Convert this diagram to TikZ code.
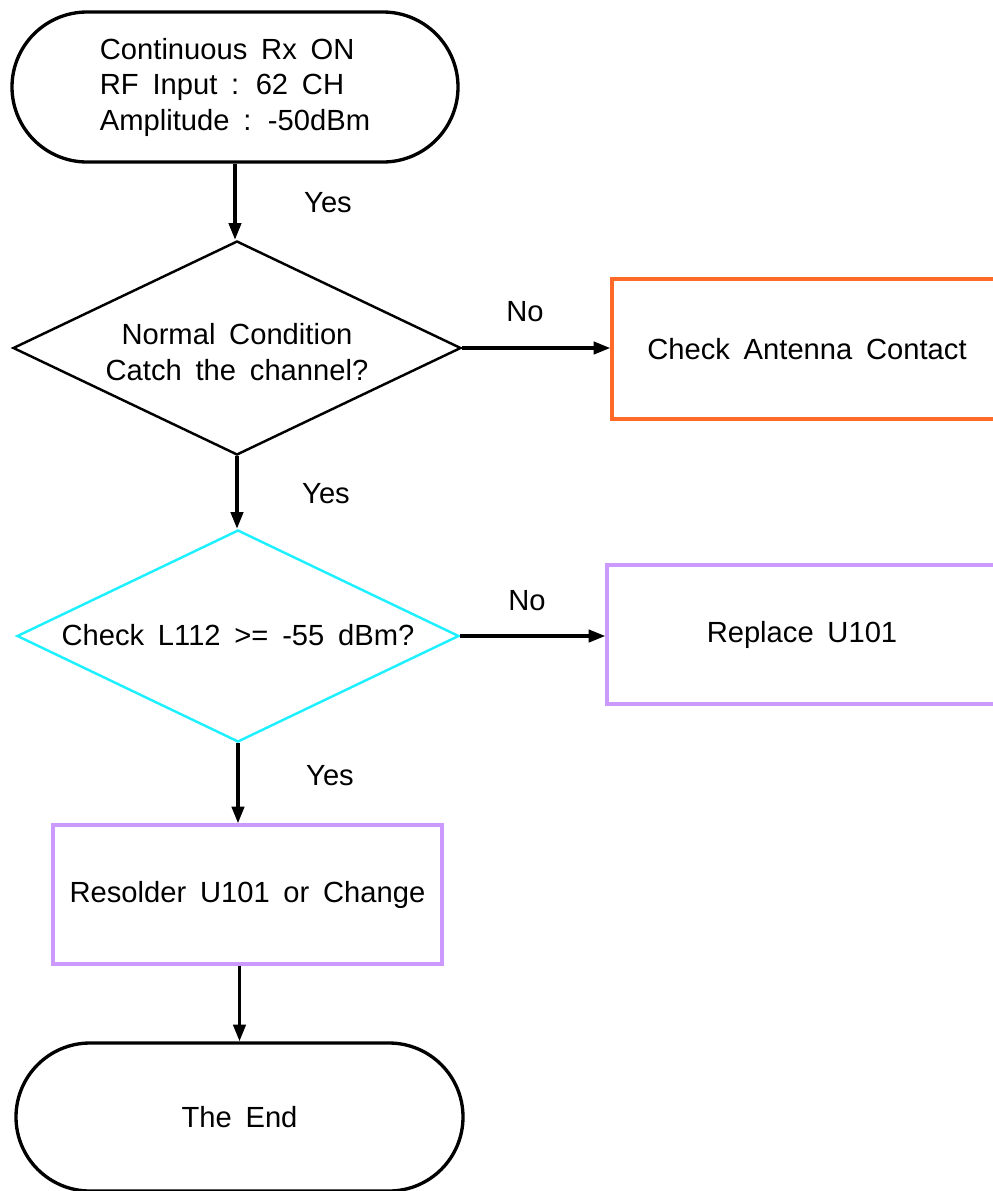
\documentclass[tikz,border=0pt]{standalone}
\usepackage{fontspec}
\setmainfont{Liberation Sans}[WordSpace=1.7]
\usetikzlibrary{shapes.misc,shapes.geometric,arrows.meta}
\definecolor{orangeline}{HTML}{FF6A28}
\definecolor{purpleline}{HTML}{CC99FF}
\definecolor{cyanline}{HTML}{1EF0FF}
\newlength\pxu
\setlength\pxu{0.02cm}
\tikzset{
  every node/.style={font=\fontsize{16.6}{20.2}\selectfont, inner sep=0pt},
  terminal/.style={rounded rectangle, draw=black, line width=1.9pt, align=left},
  decision/.style={diamond, draw, line width=1.4pt, inner sep=0pt},
  procbox/.style={rectangle, draw, line width=1.9pt, align=center},
  arr/.style={line width=1.9pt, -{Triangle[length=9.5pt,width=7pt]}},
  lbl/.style={anchor=center}
}
\begin{document}
\begin{tikzpicture}[x=0.02cm, y=-0.02cm]
\useasboundingbox (0,0) rectangle (992,1191);

\node[terminal, minimum width=446\pxu, minimum height=150\pxu] (start) at (235,87)
  {Continuous Rx ON\\RF Input : 62 CH\\Amplitude : -50dBm};

\node[decision, draw=black, minimum width=448\pxu, minimum height=214\pxu] (d1) at (237,348) {};
\node[align=center] (d1t) at (237,352) {Normal Condition\\Catch the channel?};

\node[procbox, draw=orangeline, minimum width=390\pxu, minimum height=140\pxu] (b1) at (807,349) {Check Antenna Contact};

\node[decision, draw=cyanline, minimum width=442\pxu, minimum height=212\pxu] (d2) at (238,636) {};
\node (d2t) at (238,635) {Check L112 >= -55 dBm?};

\node[procbox, draw=purpleline, minimum width=390\pxu, minimum height=139\pxu] (b2) at (802,634.5) {Replace U101};

\node[procbox, draw=purpleline, minimum width=389\pxu, minimum height=139\pxu] (b3) at (247.5,894.5) {Resolder U101 or Change};

\node[terminal, minimum width=447\pxu, minimum height=148\pxu, align=center] (end) at (239.5,1117) {The End};

% labels
\node[lbl] (y1) at (328,203) {Yes};
\node[lbl] (n1) at (525,312) {No};
\node[lbl] (y2) at (326,494) {Yes};
\node[lbl] (n2) at (527,601) {No};
\node[lbl] (y3) at (330,776) {Yes};

% connectors
\draw[arr] (start.south) -- (start.south |- d1.north);
\draw[arr] (d1.east) -- (d1.east -| b1.west);
\draw[arr] (d1.south) -- (d1.south |- d2.north);
\draw[arr] (d2.east) -- (d2.east -| b2.west);
\draw[arr] (d2.south) -- (d2.south |- b3.north);
\draw[arr] (end.north |- b3.south) -- (end.north);
\end{tikzpicture}
\end{document}
